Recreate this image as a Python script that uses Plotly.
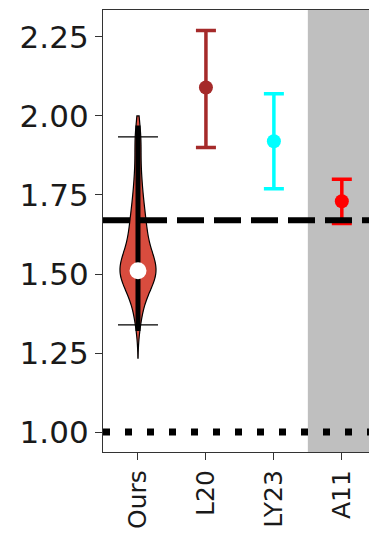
import plotly.graph_objects as go

# ---- data ----
categories = ["Ours", "L20", "LY23", "A11"]
ours_samples = [1.35, 1.40, 1.43, 1.45, 1.47, 1.48, 1.49, 1.50, 1.50, 1.51, 1.51,
                1.52, 1.53, 1.54, 1.55, 1.56, 1.58, 1.60, 1.62, 1.64, 1.66, 1.68,
                1.71, 1.74, 1.78, 1.83, 1.90, 1.95]
ours_span = [1.234, 2.0]
ours_median = 1.51
ours_low = 1.339
ours_high = 1.934
ours_whisker = [1.32, 1.97]
other_labels = ["L20", "LY23", "A11"]
other_values = [2.09, 1.92, 1.73]
other_upper = [2.27, 2.07, 1.80]
other_lower = [1.90, 1.77, 1.66]
other_colors = ["#a52a2a", "#00ffff", "#ff0000"]
dashed_level = 1.67
dotted_level = 1.00
shade_start = 2.5
y_ticks = [1.00, 1.25, 1.50, 1.75, 2.00, 2.25]

fig = go.Figure()

fig.add_trace(go.Violin(
    x=["Ours"] * len(ours_samples), y=ours_samples,
    width=0.53, spanmode="manual", span=ours_span, bandwidth=0.05,
    fillcolor="rgba(214,66,52,0.95)", line=dict(color="black", width=1.2),
    points=False, box_visible=False, meanline_visible=False,
    hoverinfo="skip", showlegend=False,
))
# thick center line
fig.add_trace(go.Scatter(
    x=["Ours", "Ours"], y=ours_whisker, mode="lines",
    line=dict(color="black", width=5), showlegend=False, hoverinfo="skip",
))
# caps
fig.add_trace(go.Scatter(
    x=["Ours"], y=[ours_median], mode="markers", marker=dict(size=1, opacity=0),
    error_y=dict(type="data", symmetric=False,
                 array=[ours_high - ours_median], arrayminus=[ours_median - ours_low],
                 color="black", thickness=1.3, width=20),
    showlegend=False, hoverinfo="skip",
))
fig.add_trace(go.Scatter(
    x=["Ours"], y=[ours_median], mode="markers",
    marker=dict(color="white", size=17, line=dict(width=0)), showlegend=False,
))

for lab, v, up, lo, c in zip(other_labels, other_values, other_upper, other_lower, other_colors):
    fig.add_trace(go.Scatter(
        x=[lab], y=[v], mode="markers",
        marker=dict(color=c, size=14),
        error_y=dict(type="data", symmetric=False, array=[up - v], arrayminus=[v - lo],
                     color=c, thickness=3.5, width=10),
        showlegend=False,
    ))

fig.add_shape(type="rect", xref="x", yref="paper", x0=shade_start, x1=10, y0=0, y1=1,
              fillcolor="#bfbfbf", line=dict(width=0), layer="below")
fig.add_shape(type="line", xref="paper", yref="y", x0=0, x1=1, y0=dashed_level, y1=dashed_level,
              line=dict(color="black", width=6, dash="27px,10px"), layer="above")
fig.add_shape(type="line", xref="paper", yref="y", x0=0, x1=1, y0=dotted_level, y1=dotted_level,
              line=dict(color="black", width=7, dash="7px,15px"), layer="above")

fig.update_layout(
    width=369, height=545,
    margin=dict(l=103, r=0, t=10, b=93, autoexpand=False),
    plot_bgcolor="white", paper_bgcolor="white",
    font=dict(family="DejaVu Sans", color="#1a1a1a"),
)
fig.update_xaxes(
    type="category", categoryorder="array", categoryarray=categories,
    range=[-0.515, 3.40], showgrid=False, zeroline=False, automargin=False,
    showline=True, linecolor="#333333", linewidth=1.3, mirror=True,
    ticks="outside", ticklen=7, tickcolor="#333333", tickwidth=1.3,
    tickangle=-90, tickfont=dict(size=25),
)
fig.update_yaxes(
    range=[0.937, 2.335], showgrid=False, zeroline=False, automargin=False,
    showline=True, linecolor="#333333", linewidth=1.3,
    ticks="outside", ticklen=7, tickcolor="#333333", tickwidth=1.3,
    tickvals=y_ticks, ticktext=[f"{t:.2f}" for t in y_ticks], tickfont=dict(size=31),
)

fig.write_html(
    "out.html",
    config={"displayModeBar": False},
    post_script="document.body.style.margin='0';document.body.style.overflow='hidden';",
)
